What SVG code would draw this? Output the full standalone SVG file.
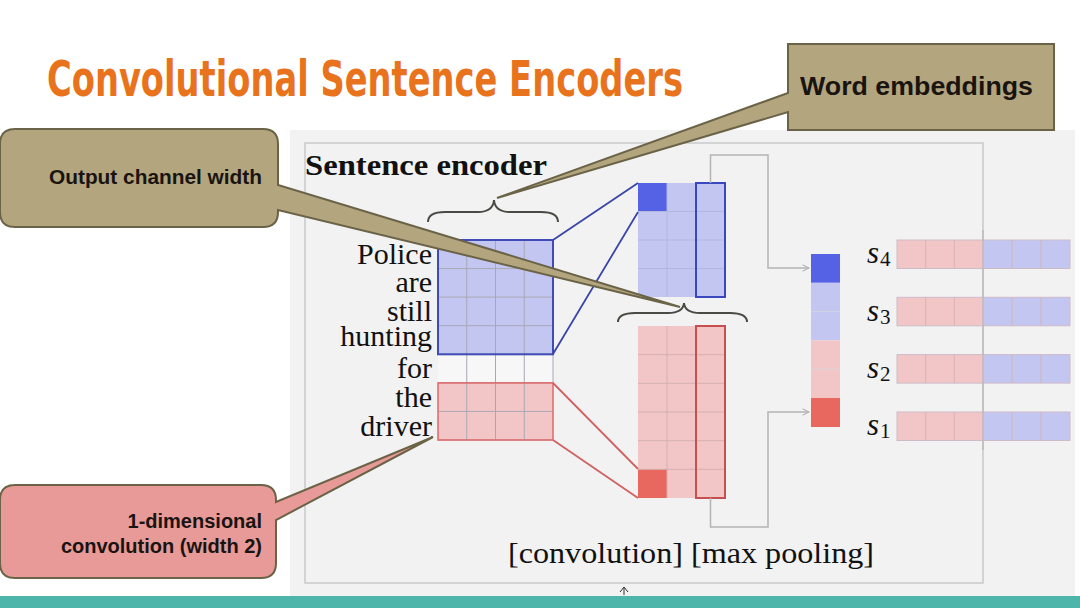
<svg xmlns="http://www.w3.org/2000/svg" width="1080" height="608" viewBox="0 0 1080 608">
<style>
.serif{font-family:"Liberation Serif","Times New Roman",serif;fill:#111}
.sans{font-family:"Liberation Sans",Arial,sans-serif;font-weight:bold;fill:#1a1410}
.grid{stroke:#a8a8b4;stroke-width:1;fill:none}
.lb{fill:#c3c6f0}
.db{fill:#5562e6}
.lr{fill:#f2c6c6}
.dr{fill:#e8675f}
.conn{fill:none;stroke:#b4b4b4;stroke-width:1.5}
.brace{fill:none;stroke:#4a4a44;stroke-width:2}
.callout{stroke:#6b6347;stroke-width:2}
</style>
<defs>
<marker id="ah" viewBox="0 0 10 10" refX="9" refY="5" markerWidth="8" markerHeight="8" orient="auto" markerUnits="userSpaceOnUse">
<path d="M1,1 L9,5 L1,9" fill="none" stroke="#b4b4b4" stroke-width="1.3"/>
</marker>
</defs>
<rect x="0" y="0" width="1080" height="608" fill="#ffffff"/>
<rect x="290" y="130" width="785" height="466" fill="#f2f2f2"/>
<rect x="305" y="143" width="678" height="440" fill="none" stroke="#c9c9c9" stroke-width="1.5"/>
<rect x="0" y="596" width="1080" height="12" fill="#4db5aa"/>

<g id="title">
<text x="47" y="96" font-family="'Liberation Sans Narrow','DejaVu Sans Condensed','Liberation Sans',sans-serif" font-weight="bold" font-size="50" fill="#e8731c" textLength="636" lengthAdjust="spacingAndGlyphs">Convolutional Sentence Encoders</text>
</g>

<g id="sentence-encoder-label">
<text class="serif" x="305" y="175" font-size="30" font-weight="bold" textLength="242" lengthAdjust="spacingAndGlyphs">Sentence encoder</text>
</g>

<g id="words" class="serif" font-size="30" text-anchor="end">
<text class="serif" x="432" y="264">Police</text>
<text class="serif" x="432" y="292">are</text>
<text class="serif" x="432" y="321">still</text>
<text class="serif" x="432" y="346">hunting</text>
<text class="serif" x="432" y="378">for</text>
<text class="serif" x="432" y="407">the</text>
<text class="serif" x="432" y="436">driver</text>
</g>

<g id="input-matrix">
<rect x="438" y="240" width="115" height="200" fill="#f7f7f7"/>
<rect class="lb" x="438" y="240" width="115" height="114.3"/>
<rect class="lr" x="438" y="382.9" width="115" height="57.1"/>
<path class="grid" d="M466.75,240 V440 M495.5,240 V440 M524.25,240 V440 M438,268.6 H553 M438,297.1 H553 M438,325.7 H553 M438,354.3 H553 M438,382.9 H553 M438,411.4 H553 M438,440 H553 M553,354 V383"/>
<rect x="438" y="240" width="115" height="114.3" fill="none" stroke="#3f4cb5" stroke-width="2"/>
<rect x="438" y="382.9" width="115" height="57.1" fill="none" stroke="#e06868" stroke-width="1.5"/>
</g>

<g id="conv-top">
<rect class="lb" x="638" y="183" width="87" height="114"/>
<rect class="db" x="638" y="183" width="29" height="28.5"/>
<path d="M667,183 V297 M696,183 V297 M638,211.5 H725 M638,240 H725 M638,268.5 H725" stroke="#b3b6dc" stroke-width="1" fill="none"/>
<rect x="696" y="183" width="29" height="114" fill="none" stroke="#3a48c0" stroke-width="2"/>
</g>

<g id="conv-bottom">
<rect class="lr" x="638" y="326" width="87" height="172"/>
<rect class="dr" x="638" y="469.3" width="29" height="28.7"/>
<path d="M667,326 V498 M696,326 V498 M638,354.7 H725 M638,383.3 H725 M638,412 H725 M638,440.7 H725 M638,469.3 H725" stroke="#d4b0b0" stroke-width="1" fill="none"/>
<rect x="696" y="326" width="29" height="172" fill="none" stroke="#c84f4f" stroke-width="2"/>
</g>

<g id="pooled-vector">
<rect class="db" x="811" y="254" width="29" height="28.8"/>
<rect class="lb" x="811" y="282.8" width="29" height="57.6"/>
<rect class="lr" x="811" y="340.4" width="29" height="57.6"/>
<rect class="dr" x="811" y="398" width="29" height="29"/>
<path d="M811,311.6 H840 M811,369.2 H840" stroke="#d6d6e0" stroke-width="0.8"/>
</g>

<g id="sentence-vectors">
<g id="s4">
<text class="serif" x="867" y="263" font-size="31" font-style="italic">s</text>
<text class="serif" x="880" y="266" font-size="21">4</text>
<rect class="lr" x="897" y="240" width="86" height="28.5"/>
<rect class="lb" x="983" y="240" width="87" height="28.5"/>
<path d="M925.7,240 v28.5 M954.3,240 v28.5 M1012,240 v28.5 M1041,240 v28.5" stroke="#d5b3b3" stroke-width="1"/>
<rect x="897" y="240" width="173" height="28.5" fill="none" stroke="#ccbcc8" stroke-width="1"/>
</g>
<g id="s3">
<text class="serif" x="867" y="321" font-size="31" font-style="italic">s</text>
<text class="serif" x="880" y="324" font-size="21">3</text>
<rect class="lr" x="897" y="297.3" width="86" height="28.5"/>
<rect class="lb" x="983" y="297.3" width="87" height="28.5"/>
<path d="M925.7,297.3 v28.5 M954.3,297.3 v28.5 M1012,297.3 v28.5 M1041,297.3 v28.5" stroke="#d5b3b3" stroke-width="1"/>
<rect x="897" y="297.3" width="173" height="28.5" fill="none" stroke="#ccbcc8" stroke-width="1"/>
</g>
<g id="s2">
<text class="serif" x="867" y="378" font-size="31" font-style="italic">s</text>
<text class="serif" x="880" y="381" font-size="21">2</text>
<rect class="lr" x="897" y="354.6" width="86" height="28.5"/>
<rect class="lb" x="983" y="354.6" width="87" height="28.5"/>
<path d="M925.7,354.6 v28.5 M954.3,354.6 v28.5 M1012,354.6 v28.5 M1041,354.6 v28.5" stroke="#d5b3b3" stroke-width="1"/>
<rect x="897" y="354.6" width="173" height="28.5" fill="none" stroke="#ccbcc8" stroke-width="1"/>
</g>
<g id="s1">
<text class="serif" x="867" y="435" font-size="31" font-style="italic">s</text>
<text class="serif" x="880" y="438" font-size="21">1</text>
<rect class="lr" x="897" y="412" width="86" height="28.5"/>
<rect class="lb" x="983" y="412" width="87" height="28.5"/>
<path d="M925.7,412 v28.5 M954.3,412 v28.5 M1012,412 v28.5 M1041,412 v28.5" stroke="#d5b3b3" stroke-width="1"/>
<rect x="897" y="412" width="173" height="28.5" fill="none" stroke="#ccbcc8" stroke-width="1"/>
</g>
<line x1="983" y1="230" x2="983" y2="450" stroke="#b8b8b8" stroke-width="1.2"/>
</g>

<g id="connectors">
<path d="M553,240 L638,183 M553,354 L638,212" fill="none" stroke="#3a46a8" stroke-width="1.8"/>
<path d="M553,383 L638,469 M553,440 L638,498" fill="none" stroke="#d06262" stroke-width="1.8"/>
<path class="conn" d="M710.5,183 V155 H768 V268 H809" marker-end="url(#ah)"/>
<path class="conn" d="M710.5,498 V527 H768 V412 H809" marker-end="url(#ah)"/>
<path class="brace" d="M428,222 Q428,212 445,212 H478 Q493,212 494,200 Q495,212 510,212 H541 Q558,212 558,222"/>
<path class="brace" d="M618,322 Q618,313 635,313 H668 Q683,313 684,303 Q685,313 700,313 H730 Q747,313 747,322"/>
</g>

<g id="bottom-label">
<text class="serif" x="508" y="563" font-size="30" textLength="366" lengthAdjust="spacingAndGlyphs">[convolution] [max pooling]</text>
<path d="M620,592 L624,587 L628,592 M624,587 V595" fill="none" stroke="#333" stroke-width="1"/>
</g>

<g id="callout-word-embeddings">
<path class="callout" fill="#b3a67f" d="M788,44 H1054 V130 H788 V112 L497,198 L788,93 Z"/>
<text class="sans" x="800" y="95" font-size="25" textLength="233" lengthAdjust="spacingAndGlyphs">Word embeddings</text>
</g>

<g id="callout-output-channel">
<path class="callout" fill="#b3a67f" d="M15,129 H263 Q278,129 278,144 V185 L680,307 L278,210 V212 Q278,227 263,227 H15 Q0,227 0,212 V144 Q0,129 15,129 Z"/>
<text class="sans" x="49" y="184" font-size="20" textLength="213" lengthAdjust="spacingAndGlyphs">Output channel width</text>
</g>

<g id="callout-convolution">
<path class="callout" fill="#e89a98" d="M15,485 H261 Q276,485 276,500 V502 L433,437 L276,520 V563 Q276,578 261,578 H15 Q0,578 0,563 V500 Q0,485 15,485 Z"/>
<text class="sans" x="262" y="528" font-size="20" text-anchor="end">1-dimensional</text>
<text class="sans" x="262" y="553" font-size="20" text-anchor="end">convolution (width 2)</text>
</g>
</svg>
